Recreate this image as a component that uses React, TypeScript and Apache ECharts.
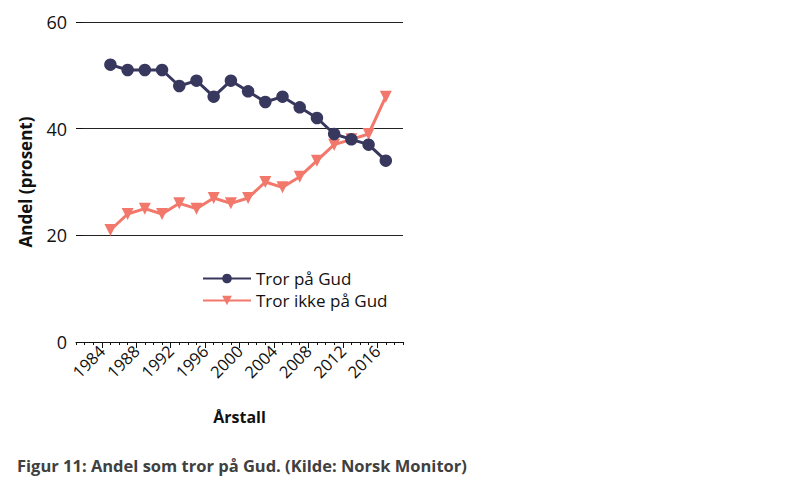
import React, { useEffect, useRef } from "react";
import * as echarts from "echarts";

const years = [1985, 1987, 1989, 1991, 1993, 1995, 1997, 1999, 2001, 2003, 2005, 2007, 2009, 2011, 2013, 2015, 2017];
const trorPaGud = [52, 51, 51, 51, 48, 49, 46, 49, 47, 45, 46, 44, 42, 39, 38, 37, 34];
const trorIkke = [21, 24, 25, 24, 26, 25, 27, 26, 27, 30, 29, 31, 34, 37, 38, 39, 46];
const majorTickYears = [1984, 1988, 1992, 1996, 2000, 2004, 2008, 2012, 2016];
const minorTickYears = Array.from({ length: 39 }, (_, i) => 1981 + i);
const seriesNames = ["Tror på Gud", "Tror ikke på Gud"];
const caption = "Figur 11: Andel som tror på Gud. (Kilde: Norsk Monitor)";

const NAVY = "#38385f";
const SALMON = "#f2786c";
const FONT = "Open Sans";

export default function App() {
  const ref = useRef<HTMLDivElement>(null);
  useEffect(() => {
    document.body.style.margin = "0";
    const chart = echarts.init(ref.current!, null, { renderer: "svg" });
    chart.setOption({
      animation: false,
      backgroundColor: "#ffffff",
      textStyle: { fontFamily: FONT },
      grid: { left: 76, right: 397, top: 22, bottom: 149 },
      legend: {
        orient: "vertical",
        left: 197,
        top: 265,
        itemWidth: 48,
        itemHeight: 12,
        itemGap: 5,
        textStyle: { fontSize: 17, color: "#111", fontFamily: FONT },
        data: seriesNames,
      },
      xAxis: [
        {
          type: "value",
          min: 1981,
          max: 2019,
          axisLine: { show: true, lineStyle: { color: "#111", width: 1 } },
          axisTick: { show: true, customValues: minorTickYears, length: 3, lineStyle: { color: "#111" } },
          axisLabel: { show: false },
          splitLine: { show: false },
        },
        {
          type: "value",
          min: 1981,
          max: 2019,
          position: "bottom",
          axisLine: { show: false },
          axisTick: { show: true, customValues: majorTickYears, length: 6, lineStyle: { color: "#111" } },
          axisLabel: {
            show: true,
            customValues: majorTickYears,
            formatter: (v: number) => String(v),
            rotate: 45,
            fontSize: 16.5,
            color: "#111",
            margin: 6,
            fontFamily: FONT,
          },
          splitLine: { show: false },
          name: "Årstall",
          nameLocation: "middle",
          nameGap: 67,
          nameTextStyle: { fontSize: 16, fontWeight: "bold", color: "#111", fontFamily: FONT },
        },
      ],
      yAxis: {
        type: "value",
        min: 0,
        max: 60,
        interval: 20,
        axisLine: { show: false },
        axisTick: { show: true, inside: true, length: 7, lineStyle: { color: "#111" } },
        axisLabel: { fontSize: 18, color: "#111", margin: 9, fontFamily: FONT },
        splitLine: { show: true, lineStyle: { color: "#222", width: 1 } },
        name: "Andel (prosent)",
        nameLocation: "middle",
        nameGap: 42,
        nameTextStyle: { fontSize: 17, fontWeight: "bold", color: "#111", fontFamily: FONT },
      },
      series: [
        {
          name: seriesNames[0],
          type: "line",
          xAxisIndex: 0,
          data: years.map((y, i) => [y, trorPaGud[i]]),
          symbol: "circle",
          symbolSize: 12.5,
          itemStyle: { color: NAVY },
          lineStyle: { color: NAVY, width: 3 },
          z: 3,
        },
        {
          name: seriesNames[1],
          type: "line",
          xAxisIndex: 0,
          data: years.map((y, i) => [y, trorIkke[i]]),
          symbol: "triangle",
          symbolRotate: 180,
          symbolSize: 12,
          itemStyle: { color: SALMON },
          lineStyle: { color: SALMON, width: 3 },
          z: 2,
        },
      ],
      graphic: [
        {
          type: "text",
          left: 17,
          top: 457,
          style: {
            text: caption,
            fontSize: 16.5,
            fontWeight: "bold",
            fill: "#404040",
            fontFamily: FONT,
          },
        },
      ],
    });
    return () => chart.dispose();
  }, []);
  return <div ref={ref} style={{ width: 800, height: 491 }} />;
}
